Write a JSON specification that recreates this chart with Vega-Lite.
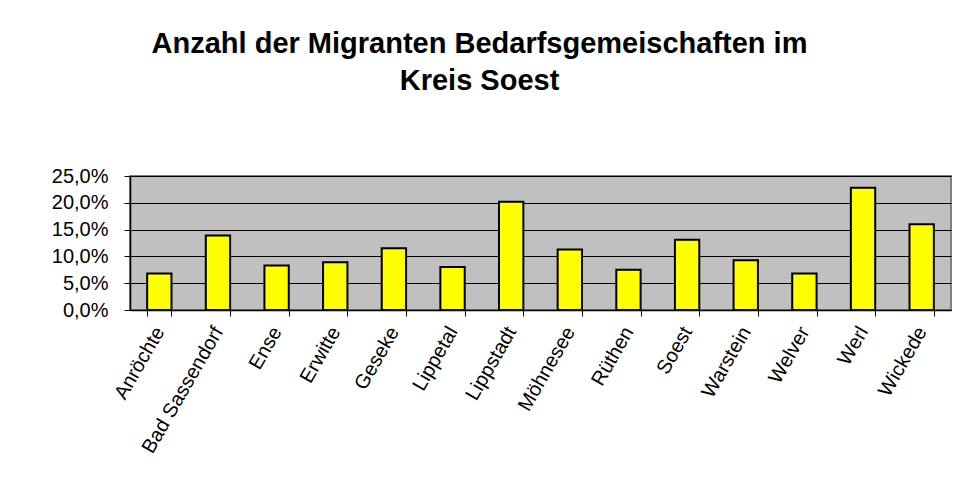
{
  "$schema": "https://vega.github.io/schema/vega-lite/v6.json",
  "width": 821,
  "height": 134,
  "autosize": "none",
  "padding": {"left": 130, "top": 176, "right": 4, "bottom": 191},
  "background": "white",
  "config": {
    "locale": {"number": {"decimal": ",", "thousands": ".", "grouping": [3], "currency": ["", " €"]}},
    "view": {"fill": "#C0C0C0", "stroke": "#808080", "strokeWidth": 2},
    "font": "Liberation Sans"
  },
  "title": {
    "text": ["Anzahl der Migranten Bedarfsgemeischaften im", "Kreis Soest"],
    "font": "Liberation Sans",
    "fontSize": 29,
    "fontWeight": "bold",
    "color": "black",
    "anchor": "middle",
    "frame": "group",
    "dx": -61,
    "offset": 70,
    "lineHeight": 37
  },
  "data": {
    "values": [
      {"ort": "Anröchte", "anteil": 0.068},
      {"ort": "Bad Sassendorf", "anteil": 0.139},
      {"ort": "Ense", "anteil": 0.083},
      {"ort": "Erwitte", "anteil": 0.089},
      {"ort": "Geseke", "anteil": 0.115},
      {"ort": "Lippetal", "anteil": 0.080},
      {"ort": "Lippstadt", "anteil": 0.202},
      {"ort": "Möhnesee", "anteil": 0.113},
      {"ort": "Rüthen", "anteil": 0.075},
      {"ort": "Soest", "anteil": 0.131},
      {"ort": "Warstein", "anteil": 0.093},
      {"ort": "Welver", "anteil": 0.068},
      {"ort": "Werl", "anteil": 0.228},
      {"ort": "Wickede", "anteil": 0.160}
    ]
  },
  "mark": {"type": "bar", "fill": "#FFFF00", "stroke": "black", "strokeWidth": 2},
  "encoding": {
    "x": {
      "field": "ort",
      "type": "nominal",
      "sort": null,
      "scale": {"paddingInner": 0.585, "paddingOuter": 0.2925},
      "axis": {
        "title": null,
        "labelAngle": -60,
        "labelFontSize": 20,
        "labelColor": "black",
        "labelPadding": 12,
        "tickBand": "extent",
        "tickColor": "black",
        "tickSize": 6,
        "domainColor": "black",
        "domainWidth": 1.5,
        "labelFont": "Liberation Sans"
      }
    },
    "y": {
      "field": "anteil",
      "type": "quantitative",
      "scale": {"domain": [0, 0.25], "nice": false},
      "axis": {
        "title": null,
        "values": [0, 0.05, 0.1, 0.15, 0.2, 0.25],
        "format": ".1%",
        "labelFontSize": 20,
        "labelColor": "black",
        "labelPadding": 16,
        "tickColor": "black",
        "tickSize": 6,
        "domainColor": "black",
        "domainWidth": 1.5,
        "gridColor": "black",
        "gridOpacity": 1,
        "grid": true,
        "labelFont": "Liberation Sans"
      }
    }
  }
}
